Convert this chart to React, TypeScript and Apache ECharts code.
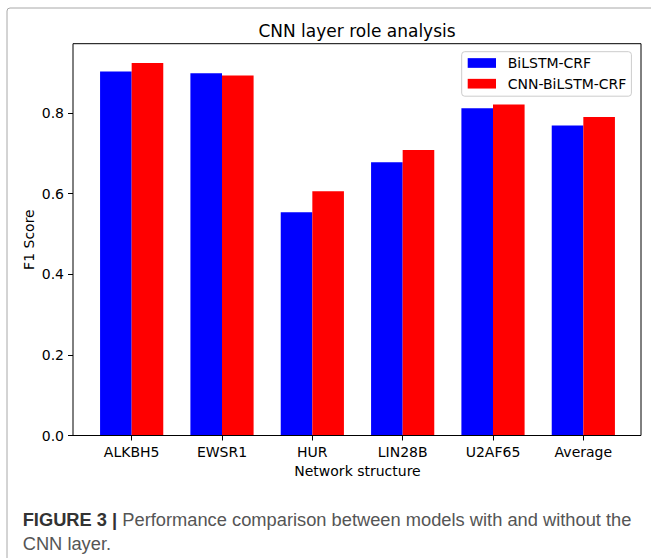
import React, { useEffect, useRef } from "react";
import * as echarts from "echarts";

const categories = ["ALKBH5", "EWSR1", "HUR", "LIN28B", "U2AF65", "Average"];
const bilstmCrf = [0.903, 0.899, 0.554, 0.678, 0.812, 0.769];
const cnnBilstmCrf = [0.924, 0.893, 0.606, 0.708, 0.821, 0.79];
const yTicks = [0, 0.2, 0.4, 0.6, 0.8];
const seriesNames = ["BiLSTM-CRF", "CNN-BiLSTM-CRF"];

const FONT = "DejaVu Sans";
const CAP = "Liberation Sans";
const CAP_SIZE = 18.3;

export default function App() {
  const ref = useRef<HTMLDivElement>(null);
  useEffect(() => {
    if (!ref.current) return;
    const chart = echarts.init(ref.current, undefined, { renderer: "svg" });
    chart.setOption({
      animation: false,
      backgroundColor: "#ffffff",
      textStyle: { fontFamily: FONT },
      title: {
        text: "CNN layer role analysis",
        left: 357,
        top: 22,
        padding: 0,
        textAlign: "center",
        textStyle: { fontFamily: FONT, fontSize: 17, fontWeight: "normal", color: "#000" },
      },
      legend: {
        orient: "vertical",
        left: 461.7,
        top: 51.7,
        padding: [4.3, 5, 5.5, 6],
        itemWidth: 28.3,
        itemHeight: 9.7,
        itemGap: 6.7,
        icon: "rect",
        backgroundColor: "rgba(255,255,255,0.8)",
        borderColor: "#cccccc",
        borderWidth: 1,
        borderRadius: 3,
        textStyle: { fontFamily: FONT, fontSize: 14, color: "#000", padding: [0, 0, 0, 6.7] },
        data: seriesNames,
      },
      grid: { left: 86.5, top: 43.7, width: 542, height: 391.8, containLabel: false },
      xAxis: {
        type: "category",
        data: categories,
        boundaryGap: true,
        axisLine: { show: false },
        axisTick: { show: true, alignWithLabel: true, length: 5, lineStyle: { color: "#000", width: 1 } },
        axisLabel: { fontFamily: FONT, fontSize: 14, color: "#000", margin: 9 },
        name: "Network structure",
        nameLocation: "middle",
        nameGap: 28,
        nameMoveOverlap: false,
        nameTextStyle: { fontFamily: FONT, fontSize: 14, color: "#000" },
        splitLine: { show: false },
      },
      yAxis: {
        type: "value",
        min: 0,
        max: 0.972,
        interval: 0.2,
        offset: 13.5,
        axisLine: { show: false },
        axisTick: { show: true, length: 5, customValues: yTicks, lineStyle: { color: "#000", width: 1 } },
        axisLabel: {
          fontFamily: FONT,
          fontSize: 14,
          color: "#000",
          margin: 9,
          customValues: yTicks,
          formatter: (v: number) => v.toFixed(1),
        },
        splitLine: { show: false },
        name: "F1 Score",
        nameLocation: "middle",
        nameGap: 37.5,
        nameMoveOverlap: false,
        nameTextStyle: { fontFamily: FONT, fontSize: 14, color: "#000" },
      },
      series: [
        {
          name: seriesNames[0],
          type: "bar",
          data: bilstmCrf,
          barWidth: 31.6,
          barGap: "0%",
          itemStyle: { color: "#0000ff" },
        },
        {
          name: seriesNames[1],
          type: "bar",
          data: cnnBilstmCrf,
          barWidth: 31.6,
          barGap: "0%",
          itemStyle: { color: "#ff0000" },
        },
      ],
      graphic: [
        {
          type: "rect",
          shape: { x: 7, y: 8, width: 700, height: 620, r: 3 },
          style: { fill: "none", stroke: "#a8a8a8", lineWidth: 1 },
          silent: true,
          z: -10,
        },
        {
          type: "rect",
          shape: { x: 73, y: 43.7, width: 568, height: 391.8 },
          style: { fill: "none", stroke: "#000", lineWidth: 1 },
          silent: true,
          z: 10,
        },
        {
          type: "text",
          x: 22.7,
          y: 519.3,
          style: {
            text: "{b|FIGURE 3} {p||} {n|Performance comparison between models with and without the}",
            verticalAlign: "middle",
            rich: {
              b: { fontFamily: CAP, fontSize: CAP_SIZE, fontWeight: "bold", fill: "#333333" },
              p: { fontFamily: CAP, fontSize: CAP_SIZE, fontWeight: "bold", fill: "#333333" },
              n: { fontFamily: CAP, fontSize: CAP_SIZE, fill: "#555555" },
            },
            fontFamily: CAP,
            fontSize: CAP_SIZE,
            fill: "#555555",
          },
        },
        {
          type: "text",
          x: 22.7,
          y: 543.3,
          style: {
            text: "CNN layer.",
            verticalAlign: "middle",
            fontFamily: CAP,
            fontSize: CAP_SIZE,
            fill: "#555555",
          },
        },
      ],
    });
    return () => chart.dispose();
  }, []);
  return (
    <div
      ref={ref}
      style={{ position: "fixed", left: 0, top: 0, width: 651, height: 558, background: "#fff" }}
    />
  );
}
